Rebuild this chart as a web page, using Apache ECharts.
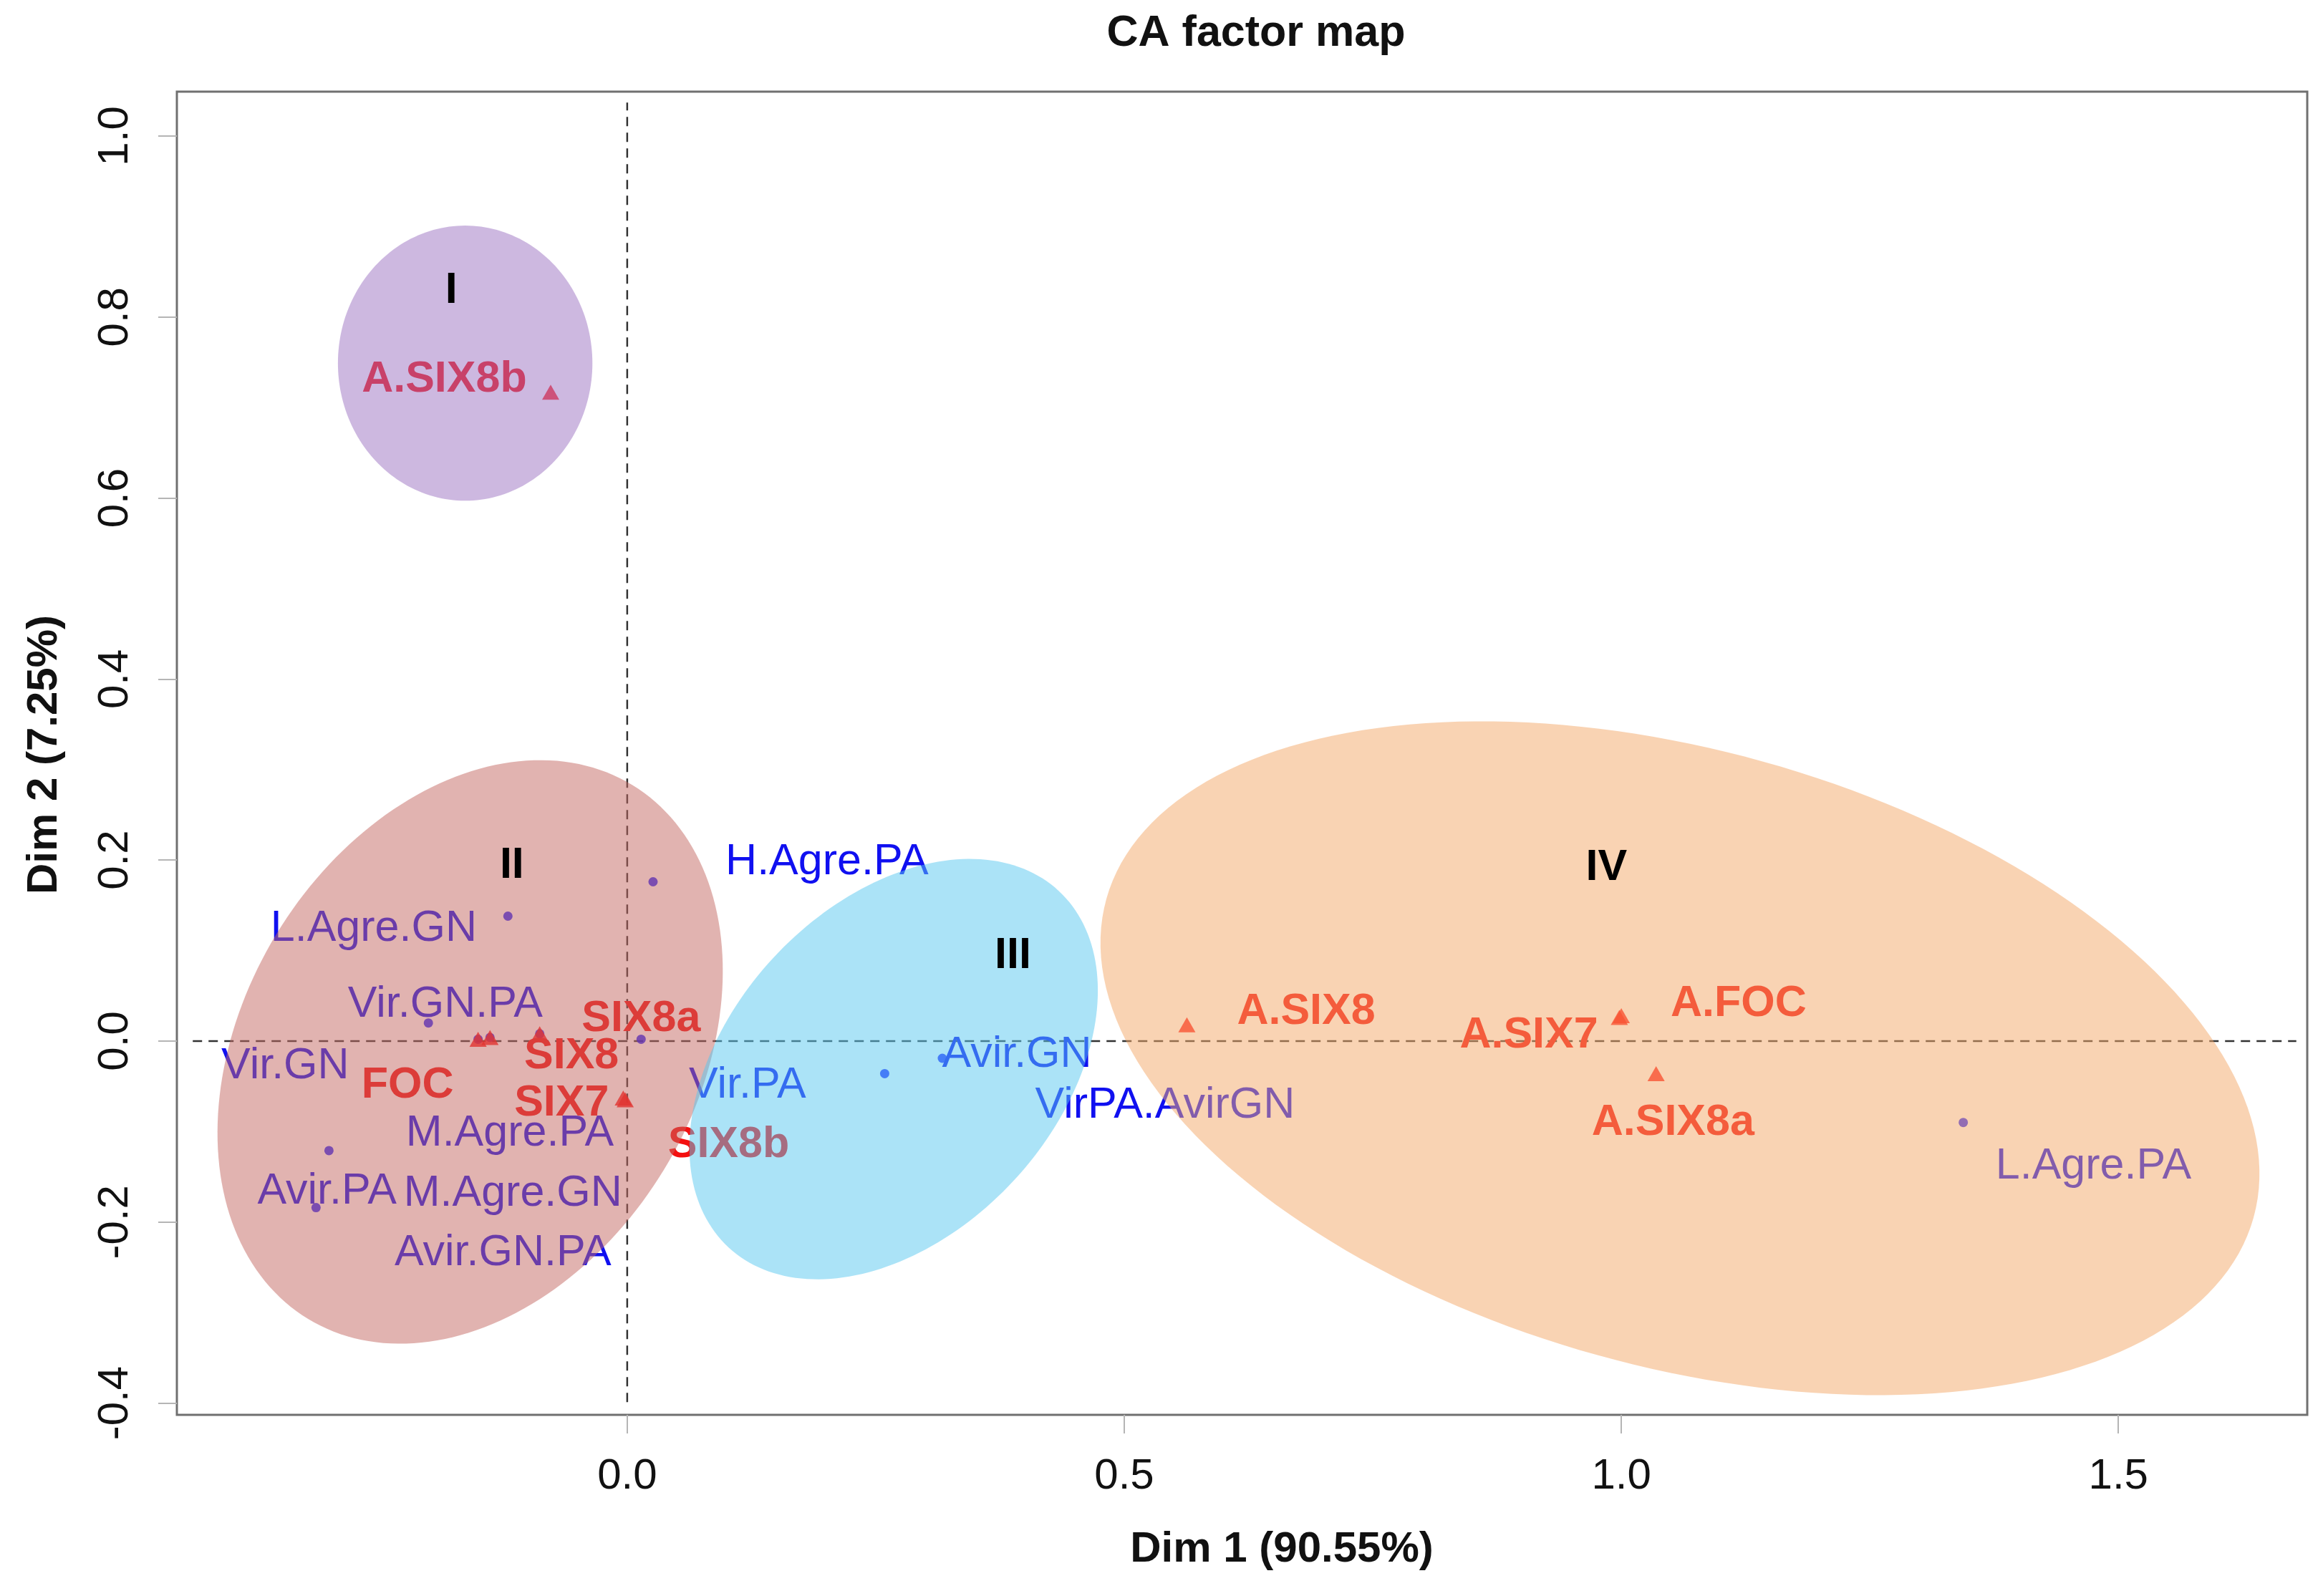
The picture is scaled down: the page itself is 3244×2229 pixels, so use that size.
<!DOCTYPE html>
<html>
<head>
<meta charset="utf-8">
<script src="https://cdn.jsdelivr.net/npm/echarts@6/dist/echarts.min.js"></script>
<style>
html,body{margin:0;padding:0;background:#ffffff;}
#chart{width:3244px;height:2229px;}
</style>
</head>
<body>
<div id="chart"></div>
<script>
// ---- tick labels ----
const xTicks = [0, 0.5, 1.0, 1.5];
const yTicks = [-0.4, -0.2, 0.0, 0.2, 0.4, 0.6, 0.8, 1.0];

// ---- column points (blue dots) ----
const colNames  = ['H.Agre.PA', 'L.Agre.GN', 'Vir.GN.PA', 'Vir.GN', 'M.Agre.PA', 'Avir.PA', 'M.Agre.GN', 'Avir.GN.PA', 'Vir.PA', 'Avir.GN', 'VirPA.AvirGN', 'L.Agre.PA'];
const colX      = [0.026, -0.120, -0.200, -0.150, -0.138, -0.300, -0.088, -0.313, 0.014, 0.317, 0.259, 1.344];
const colY      = [0.176, 0.138, 0.020, 0.002, 0.004, -0.121, 0.008, -0.184, 0.002, -0.019, -0.036, -0.090];
const colLabelX = [0.201, -0.255, -0.183, -0.344, -0.118, -0.302, -0.115, -0.125, 0.121, 0.392, 0.541, 1.475];
const colLabelY = [0.198, 0.124, 0.040, -0.028, -0.102, -0.166, -0.169, -0.234, -0.049, -0.015, -0.071, -0.139];

// ---- row points (red triangles) ----
const rowNames  = ['FOC', 'SIX7', 'SIX8', 'SIX8a', 'SIX8b', 'A.FOC', 'A.SIX7', 'A.SIX8', 'A.SIX8a', 'A.SIX8b'];
const rowX      = [-0.150, -0.002, -0.088, -0.138, -0.004, 1.000, 0.998, 0.563, 1.035, -0.077];
const rowY      = [0.002, -0.065, 0.008, 0.004, -0.063, 0.028, 0.026, 0.018, -0.036, 0.717];
const rowLabelX = [-0.221, -0.066, -0.056, 0.014, 0.102, 1.118, 0.907, 0.683, 1.052, -0.184];
const rowLabelY = [-0.049, -0.069, -0.017, 0.024, -0.115, 0.041, 0.006, 0.032, -0.090, 0.731];

// ---- clusters ----
const clusterNames  = ['I', 'II', 'III', 'IV'];
const clusterLabelX = [-0.177, -0.116, 0.388, 0.985];
const clusterLabelY = [0.829, 0.194, 0.094, 0.191];
// ellipse: centre + two conjugate semi-axis vectors (data units)
const ellipseCx = [-0.163, -0.158, 0.268, 1.059];
const ellipseCy = [0.749, -0.012, -0.031, -0.019];
const ellipseUx = [0.000, 0.163, 0.166, 0.577];
const ellipseUy = [0.152, 0.295, 0.197, -0.176];
const ellipseVx = [0.128, 0.195, 0.121, -0.083];
const ellipseVy = [0.000, -0.130, -0.123, -0.328];

// ---- reference (zero) lines extents ----
const hLineX = [-0.437, 1.679];
const vLineY = [-0.399, 1.037];

// ---- styles ----
const FONT = '"Liberation Sans", Arial, Helvetica, sans-serif';
const ellipseFill = ['rgba(155,113,193,0.5)', 'rgba(195,103,97,0.5)', 'rgba(87,199,239,0.5)', 'rgba(243,167,103,0.5)'];
const BLUE = '#1010F0';
const RED = '#F41010';

const chart = echarts.init(document.getElementById('chart'), null, {renderer: 'canvas'});

function labelSeries(xs, ys, names, color, weight, z) {
  return {
    type: 'custom',
    z: z,
    silent: true,
    data: xs.map((x, i) => [x, ys[i]]),
    encode: {x: 0, y: 1},
    renderItem: function (params, api) {
      const p = api.coord([api.value(0), api.value(1)]);
      return {
        type: 'text',
        x: p[0], y: p[1],
        style: {
          text: names[params.dataIndex],
          fill: color,
          fontSize: 61,
          fontFamily: FONT,
          fontWeight: weight,
          align: 'center',
          verticalAlign: 'middle'
        }
      };
    }
  };
}

const option = {
  animation: false,
  backgroundColor: '#ffffff',
  grid: {
    left: 247, right: 22, top: 128, bottom: 253,
    show: true, borderColor: '#707070', borderWidth: 3, backgroundColor: 'transparent'
  },
  xAxis: {
    type: 'value', min: -0.453, max: 1.690,
    axisLine: {show: false, onZero: false},
    splitLine: {show: false},
    axisTick: {show: true, customValues: xTicks, length: 26, lineStyle: {color: '#b5b5b5', width: 2}},
    axisLabel: {customValues: xTicks, formatter: v => v.toFixed(1), fontSize: 60, fontFamily: FONT, color: '#111', margin: 56}
  },
  yAxis: {
    type: 'value', min: -0.413, max: 1.049,
    axisLine: {show: false, onZero: false},
    splitLine: {show: false},
    axisTick: {show: true, customValues: yTicks, length: 26, lineStyle: {color: '#b5b5b5', width: 2}},
    axisLabel: {customValues: yTicks, formatter: v => v.toFixed(1), rotate: 90, fontSize: 60, fontFamily: FONT, color: '#111', margin: 56}
  },
  graphic: [
    {type: 'text', x: 1754, y: 47, z: 100,
     style: {text: 'CA factor map', fontSize: 61, fontWeight: 'bold', fontFamily: FONT, fill: '#111', align: 'center', verticalAlign: 'middle'}},
    {type: 'text', x: 1790, y: 2164, z: 100,
     style: {text: 'Dim 1 (90.55%)', fontSize: 60, fontWeight: 'bold', fontFamily: FONT, fill: '#111', align: 'center', verticalAlign: 'middle'}},
    {type: 'text', x: 62, y: 1054, rotation: Math.PI / 2, z: 100,
     style: {text: 'Dim 2 (7.25%)', fontSize: 60, fontWeight: 'bold', fontFamily: FONT, fill: '#111', align: 'center', verticalAlign: 'middle'}}
  ],
  series: [
    {
      type: 'line', z: 1, silent: true, symbol: 'none',
      data: [[hLineX[0], 0], [hLineX[1], 0]],
      lineStyle: {color: '#333', width: 2.5, type: [13, 9]}
    },
    {
      type: 'line', z: 1, silent: true, symbol: 'none',
      data: [[0, vLineY[0]], [0, vLineY[1]]],
      lineStyle: {color: '#333', width: 2.5, type: [13, 9]}
    },
    {
      type: 'scatter', z: 2, silent: true,
      symbol: 'circle', symbolSize: 13,
      itemStyle: {color: '#0000FF'},
      data: colX.map((x, i) => [x, colY[i]])
    },
    {
      type: 'scatter', z: 2, silent: true,
      symbol: 'triangle', symbolSize: [24, 21],
      itemStyle: {color: '#FF0000'},
      data: rowX.map((x, i) => [x, rowY[i]])
    },
    labelSeries(colLabelX, colLabelY, colNames, BLUE, 'normal', 3),
    labelSeries(rowLabelX, rowLabelY, rowNames, RED, 'bold', 3),
    {
      type: 'custom', z: 5, silent: true,
      data: ellipseCx.map((c, i) => [c, ellipseCy[i]]),
      encode: {x: 0, y: 1},
      renderItem: function (params, api) {
        const i = params.dataIndex;
        const cx = api.value(0), cy = api.value(1);
        const pts = [];
        const n = 200;
        for (let k = 0; k < n; k++) {
          const t = 2 * Math.PI * k / n;
          const c = Math.cos(t), s = Math.sin(t);
          pts.push(api.coord([cx + ellipseUx[i] * c + ellipseVx[i] * s, cy + ellipseUy[i] * c + ellipseVy[i] * s]));
        }
        return {type: 'polygon', shape: {points: pts}, style: {fill: ellipseFill[i], stroke: null}};
      }
    },
    labelSeries(clusterLabelX, clusterLabelY, clusterNames, '#000000', 'bold', 10)
  ]
};
chart.setOption(option);
</script>
</body>
</html>
